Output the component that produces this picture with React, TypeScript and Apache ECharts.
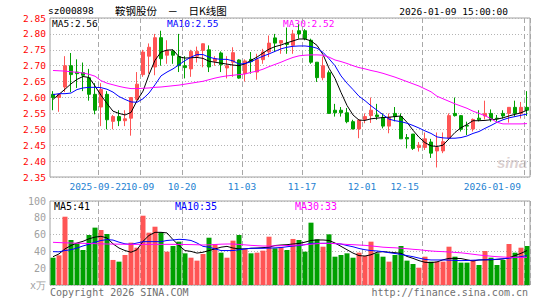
import React, { useEffect, useRef } from 'react';
import * as echarts from 'echarts';

const dates = [
  '2025-09-10','2025-09-11','2025-09-12','2025-09-15','2025-09-16','2025-09-17','2025-09-18','2025-09-19',
  '2025-09-22','2025-09-23','2025-09-24','2025-09-25','2025-09-26','2025-09-29','2025-09-30',
  '2025-10-09','2025-10-10','2025-10-13','2025-10-14','2025-10-15','2025-10-16','2025-10-17',
  '2025-10-20','2025-10-21','2025-10-22','2025-10-23','2025-10-24','2025-10-27','2025-10-28','2025-10-29','2025-10-30','2025-10-31',
  '2025-11-03','2025-11-04','2025-11-05','2025-11-06','2025-11-07','2025-11-10','2025-11-11','2025-11-12','2025-11-13','2025-11-14',
  '2025-11-17','2025-11-18','2025-11-19','2025-11-20','2025-11-21','2025-11-24','2025-11-25','2025-11-26','2025-11-27','2025-11-28',
  '2025-12-01','2025-12-02','2025-12-03','2025-12-04','2025-12-05','2025-12-08','2025-12-09','2025-12-10','2025-12-11','2025-12-12',
  '2025-12-15','2025-12-16','2025-12-17','2025-12-18','2025-12-19','2025-12-22','2025-12-23','2025-12-24','2025-12-25','2025-12-26',
  '2025-12-29','2025-12-30','2025-12-31',
  '2026-01-05','2026-01-06','2026-01-07','2026-01-08','2026-01-09',
];

const tickDates = ['2025-09-22','2025-10-09','2025-10-20','2025-11-03','2025-11-17','2025-12-01','2025-12-15','2026-01-09'];
const tickTexts = ['2025-09-22','10-09','10-20','11-03','11-17','12-01','12-15','2026-01-09'];

const opens = [
  2.61,2.60,2.633,2.70,2.68,2.678,2.662,2.61,2.57,2.61,
  2.525,2.54,2.527,2.535,2.594,2.672,2.73,2.696,2.788,2.733,
  2.746,2.729,2.70,2.69,2.73,2.748,2.75,2.714,2.74,2.693,
  2.711,2.718,2.675,2.72,2.68,2.719,2.743,2.7875,2.771,2.771,
  2.764,2.81,2.81,2.78,2.711,2.6625,2.678,2.56,2.56,2.552,
  2.524,2.501,2.531,2.543,2.545,2.5375,2.51,2.55,2.54,2.474,
  2.485,2.443,2.443,2.46,2.432,2.432,2.472,2.55,2.543,2.512,
  2.501,2.535,2.542,2.55,2.535,2.55,2.55,2.569,2.55,2.569,
];
const closes = [
  2.60,2.61,2.70,2.672,2.675,2.67,2.61,2.56,2.625,2.53,
  2.54,2.527,2.533,2.60,2.642,2.743,2.758,2.788,2.722,2.748,
  2.733,2.70,2.694,2.745,2.745,2.769,2.696,2.722,2.703,2.70,
  2.741,2.661,2.715,2.713,2.719,2.743,2.771,2.771,2.779,2.767,
  2.80,2.80,2.785,2.711,2.6625,2.70,2.55,2.552,2.552,2.524,
  2.501,2.529,2.54,2.56,2.54,2.51,2.5375,2.54,2.47,2.47,
  2.44,2.45,2.47,2.425,2.443,2.461,2.543,2.543,2.50,2.51,
  2.531,2.53,2.55,2.531,2.533,2.542,2.569,2.55,2.569,2.56,
];
const lows = [
  2.56,2.555,2.617,2.617,2.63,2.62,2.59,2.547,2.51,2.50,
  2.50,2.51,2.51,2.48,2.59,2.665,2.675,2.67,2.70,2.706,
  2.706,2.68,2.66,2.665,2.71,2.695,2.68,2.70,2.68,2.66,
  2.665,2.659,2.65,2.675,2.656,2.706,2.727,2.743,2.7375,2.7375,
  2.7375,2.785,2.78,2.706,2.649,2.654,2.55,2.54,2.54,2.519,
  2.50,2.472,2.519,2.52,2.53,2.503,2.4875,2.525,2.47,2.44,
  2.435,2.43,2.435,2.41,2.38,2.425,2.467,2.54,2.493,2.482,
  2.493,2.525,2.531,2.524,2.524,2.534,2.521,2.54,2.534,2.542,
];
const highs = [
  2.62,2.61,2.73,2.74,2.72,2.71,2.69,2.645,2.645,2.62,
  2.545,2.56,2.56,2.60,2.68,2.75,2.77,2.80,2.81,2.78,
  2.75,2.80,2.73,2.75,2.76,2.77,2.764,2.73,2.745,2.73,
  2.758,2.72,2.72,2.743,2.7375,2.753,2.795,2.80,2.78,2.82,
  2.8125,2.83,2.815,2.785,2.711,2.729,2.685,2.58,2.57,2.567,
  2.53,2.53,2.55,2.60,2.58,2.55,2.55,2.57,2.55,2.485,
  2.485,2.46,2.49,2.47,2.49,2.49,2.55,2.60,2.545,2.524,
  2.534,2.56,2.59,2.5625,2.545,2.56,2.569,2.59,2.586,2.62,
];

const ma5 = [
  2.594,2.610,2.626,2.643,2.657,2.666,2.663,2.636,2.607,2.581,
  2.557,2.550,2.545,2.553,2.590,2.620,2.672,2.717,2.743,2.749,
  2.750,2.728,2.724,2.725,2.726,2.723,2.714,2.711,2.708,2.705,
  2.702,2.700,2.706,2.717,2.727,2.740,2.752,2.760,2.765,2.772,
  2.778,2.784,2.784,2.778,2.764,2.735,2.692,2.660,2.616,2.575,
  2.545,2.529,2.528,2.533,2.535,2.537,2.538,2.540,2.542,2.522,
  2.497,2.475,2.458,2.448,2.446,2.450,2.470,2.490,2.505,2.515,
  2.527,2.527,2.528,2.530,2.532,2.536,2.542,2.547,2.552,2.560,
];
const ma10 = [
  2.609,2.612,2.612,2.614,2.625,2.630,2.632,2.632,2.631,2.626,
  2.617,2.603,2.594,2.586,2.585,2.596,2.614,2.640,2.668,2.680,
  2.690,2.703,2.716,2.727,2.735,2.735,2.727,2.722,2.720,2.720,
  2.715,2.705,2.707,2.712,2.722,2.730,2.737,2.745,2.753,2.758,
  2.761,2.762,2.762,2.760,2.755,2.742,2.722,2.700,2.668,2.645,
  2.625,2.604,2.590,2.574,2.560,2.546,2.532,2.527,2.524,2.519,
  2.512,2.504,2.495,2.487,2.476,2.473,2.472,2.472,2.474,2.479,
  2.487,2.493,2.503,2.512,2.522,2.530,2.536,2.540,2.544,2.548,
];
const ma30 = [
  2.685,2.684,2.683,2.681,2.679,2.677,2.673,2.667,2.653,2.645,
  2.640,2.635,2.631,2.628,2.628,2.629,2.630,2.632,2.633,2.635,
  2.637,2.639,2.642,2.645,2.648,2.651,2.656,2.661,2.665,2.668,
  2.670,2.672,2.674,2.679,2.683,2.689,2.697,2.704,2.711,2.719,
  2.726,2.731,2.733,2.734,2.734,2.733,2.727,2.718,2.713,2.707,
  2.700,2.694,2.690,2.685,2.681,2.676,2.670,2.664,2.657,2.650,
  2.643,2.636,2.627,2.618,2.604,2.596,2.588,2.580,2.573,2.566,
  2.557,2.550,2.543,2.533,2.522,2.517,2.517,2.517,2.517,2.518,
];

const volumes = [
  32.5,35.3,81.3,53.6,49.6,41.7,59.5,68.3,65.5,60.7,
  29.8,27.8,35.7,50.4,44.4,82.5,62.3,69.4,62.7,39.7,
  46.4,51.6,37.7,32.5,29.0,36.9,56.3,48.8,38.5,32.5,
  52.8,59.5,42.5,37.7,38.5,40.9,57.5,43.7,44.8,41.7,
  54.8,53.6,39.7,74.2,54.4,45.6,60.3,33.7,35.7,37.7,
  32.5,38.5,34.5,51.6,37.7,33.7,27.8,35.7,46.4,29.0,
  25.0,20.6,33.7,27.8,27.8,27.8,45.6,33.7,26.6,26.6,
  29.8,23.8,40.5,32.5,23.8,29.8,48.8,38.5,44.4,46.4,
];
const volMa5 = [
  33.7,37,43,47,50,52,55,57,58,56,
  49,44,41,39,42,52,59,62.7,62.7,62,
  54,47,41,40,38,39,41,43,45,46,
  44,43,43,43.7,44,44.5,45,47,47.6,48,
  48.8,49.5,51,53,53.6,53.6,53,50,46,42,
  38,35,34.5,36,39,39.7,39,38.5,37.7,34,
  31.7,29,27,26.6,27.5,30,31.7,31.7,31.5,30,
  28.6,29.8,30,30,30.5,31,32.5,35,37.7,41,
];
const volMa10 = [
  39.7,39.5,41,42,44,46.5,48.5,51,53,54,
  53.5,51,49,48.4,50,51.6,51.6,51.6,51.6,53,
  53.6,54.4,54,53,50,46,45,43,41,41,
  41,42,43,43.7,43.7,43.7,43.9,44.2,44.6,45.5,
  46.4,47,48,49.6,49.6,49.6,49.6,49.3,48.8,47,
  45.5,43.5,42,41,40.5,39.7,38.5,37.5,36.5,35,
  33.7,32,30.5,29.8,29.8,29.8,29.6,29.3,29,29.2,
  29.5,29.8,30,30.3,30.6,31.3,32,32.8,33.8,35,
];
const volMa30 = [
  50.8,50.5,50.2,50,49.8,49.6,49.4,49.2,49,48.8,
  48.7,48.6,48.5,48.4,48.4,48.4,48.4,48.4,48.4,48.4,
  48.4,48.3,48.2,48.1,47.9,47.6,47.8,48.2,48.6,48.8,
  48.8,48.3,47.8,47.2,46.8,46.4,46.4,46.6,46.8,47,
  47.3,47.6,48,48.5,49.2,49.6,49.6,49.3,48.8,48.3,
  48,47.6,47.2,46.5,45.8,45,44.6,44.3,43.8,43.2,
  42.5,42,41.2,40.5,40,39.7,39.3,38.8,38.3,37.5,
  36.6,35.7,35,34.3,33.7,33.3,32.9,32.9,32.9,32.9,
];

const UP = '#ff5555';
const DOWN = '#00a000';
const MONO = '"DejaVu Sans Mono", monospace';

export default function App() {
  const ref = useRef<HTMLDivElement>(null);
  useEffect(() => {
    if (!ref.current) return;
    const chart = echarts.init(ref.current, undefined, { renderer: 'svg' });
    const tickIdx = tickDates.map((d) => dates.indexOf(d));
    const isTick = (i: number) => tickIdx.indexOf(i) >= 0;
    // alternate labels onto two axes so neighbouring labels are not dropped as overlapping
    const groupA = tickIdx.filter((_, k) => k % 2 === 0);
    const groupB = tickIdx.filter((_, k) => k % 2 === 1);
    const last = dates.length - 1;
    const candleData = dates.map((_, i) => [opens[i], closes[i], lows[i], highs[i]]);
    const volData = volumes.map((v, i) => ({
      value: v,
      itemStyle: { color: closes[i] >= opens[i] ? UP : DOWN },
    }));
    const splitX = {
      show: true,
      interval: (i: number) => isTick(i),
      lineStyle: { color: '#a8a8a8', type: [5, 3] as any, width: 1 },
    };
    const dotted = { color: '#b4b4b4', type: [1, 2] as any, width: 1 };
    const labelAxis = (group: number[], withSplit: boolean) => ({
      type: 'category', gridIndex: 0, data: dates, boundaryGap: true, position: 'bottom',
      axisLine: { show: false }, axisTick: { show: false },
      axisLabel: {
        interval: (i: number) => group.indexOf(i) >= 0,
        formatter: (_v: string, i: number) => tickTexts[tickIdx.indexOf(i)] || '',
        color: '#1e82d2', fontFamily: MONO, fontSize: 9.5, margin: 4,
        padding: [0, 6, 0, 0], alignMaxLabel: 'right', hideOverlap: false,
      },
      splitLine: withSplit ? splitX : { show: false },
    });
    const lineS = (name: string, data: number[], color: string, xi: number, yi: number) => ({
      name, type: 'line', data, xAxisIndex: xi, yAxisIndex: yi,
      symbol: 'none', smooth: false, lineStyle: { color, width: 1 }, itemStyle: { color },
      silent: true,
    });
    const txt = (text: string, x: number, y: number, fill: string, size: number, align = 'left', family = MONO) => ({
      type: 'text', x, y, silent: true,
      style: { text, fill, fontSize: size, fontFamily: family, textAlign: align, textVerticalAlign: 'middle', verticalAlign: 'middle' },
    });

    chart.setOption({
      animation: false,
      backgroundColor: '#ffffff',
      grid: [
        { left: 50, top: 18, width: 480, height: 159, show: true, borderColor: '#a0a0a0', borderWidth: 1 },
        { left: 50, top: 201, width: 480, height: 84, show: true, borderColor: '#a0a0a0', borderWidth: 1 },
      ],
      xAxis: [
        labelAxis(groupA, true),
        {
          type: 'category', gridIndex: 1, data: dates, boundaryGap: true,
          axisLine: { show: false }, axisTick: { show: false }, axisLabel: { show: false },
          splitLine: splitX,
        },
        labelAxis(groupB, false),
      ],
      yAxis: [
        {
          type: 'value', gridIndex: 0, min: 2.35, max: 2.85, interval: 0.05,
          axisLine: { show: false }, axisTick: { show: false },
          axisLabel: { formatter: (v: number) => v.toFixed(2), color: '#ff0000', fontFamily: MONO, fontSize: 9.5, margin: 4 },
          splitLine: { show: true, lineStyle: dotted },
        },
        {
          type: 'value', gridIndex: 1, min: 0, max: 100, interval: 20,
          axisLine: { show: false }, axisTick: { show: false },
          axisLabel: {
            formatter: (v: number) => (v === 0 ? 'x万' : String(v)),
            color: '#a0a0a0', fontFamily: MONO, fontSize: 10, margin: 4,
          },
          splitLine: { show: true, lineStyle: dotted },
        },
      ],
      series: [
        {
          type: 'candlestick', xAxisIndex: 0, yAxisIndex: 0, data: candleData, barWidth: 4,
          itemStyle: { color: UP, color0: DOWN, borderColor: UP, borderColor0: DOWN, borderWidth: 1 },
          silent: true,
        },
        lineS('MA5', ma5, '#000000', 0, 0),
        lineS('MA10', ma10, '#0000ff', 0, 0),
        lineS('MA30', ma30, '#ff00ff', 0, 0),
        { type: 'bar', xAxisIndex: 1, yAxisIndex: 1, data: volData, barWidth: 5, silent: true },
        lineS('VMA5', volMa5, '#000000', 1, 1),
        lineS('VMA10', volMa10, '#0000ff', 1, 1),
        lineS('VMA30', volMa30, '#ff00ff', 1, 1),
      ],
      graphic: [
        txt('sz000898', 48, 10.5, '#000000', 9.5),
        txt('鞍钢股份　－　日K线图', 115, 10, '#000000', 10.5, 'left', '"Noto Sans CJK SC", sans-serif'),
        txt('2026-01-09 15:00:00', 508, 11.5, '#000000', 9.5, 'right'),
        txt(`MA5:${ma5[last].toFixed(2)}`, 52, 23.5, '#000000', 9.5),
        txt(`MA10:${ma10[last].toFixed(2)}`, 167, 23.5, '#0000ff', 9.5),
        txt(`MA30:${ma30[last].toFixed(2)}`, 283, 23.5, '#ff00ff', 9.5),
        txt(`MA5:${Math.round(volMa5[last])}`, 54, 206.5, '#000000', 10),
        txt(`MA10:${Math.round(volMa10[last])}`, 175, 206.5, '#0000ff', 10),
        txt(`MA30:${Math.round(volMa30[last])}`, 295, 206.5, '#ff00ff', 10),
        txt('Copyright 2026 SINA.COM', 50, 292, '#707070', 10),
        txt('http://finance.sina.com.cn', 528, 292, '#707070', 10, 'right'),
        {
          type: 'text', x: 512, y: 162, silent: true,
          style: { text: 'sina', fill: 'rgba(190,170,170,0.55)', fontSize: 15, fontStyle: 'italic', fontWeight: 'bold', fontFamily: 'Liberation Sans, sans-serif', textAlign: 'center', textVerticalAlign: 'middle', verticalAlign: 'middle' },
        },
      ],
    });
    return () => chart.dispose();
  }, []);
  return <div ref={ref} style={{ position: 'absolute', left: 0, top: 0, width: 545, height: 300 }} />;
}
